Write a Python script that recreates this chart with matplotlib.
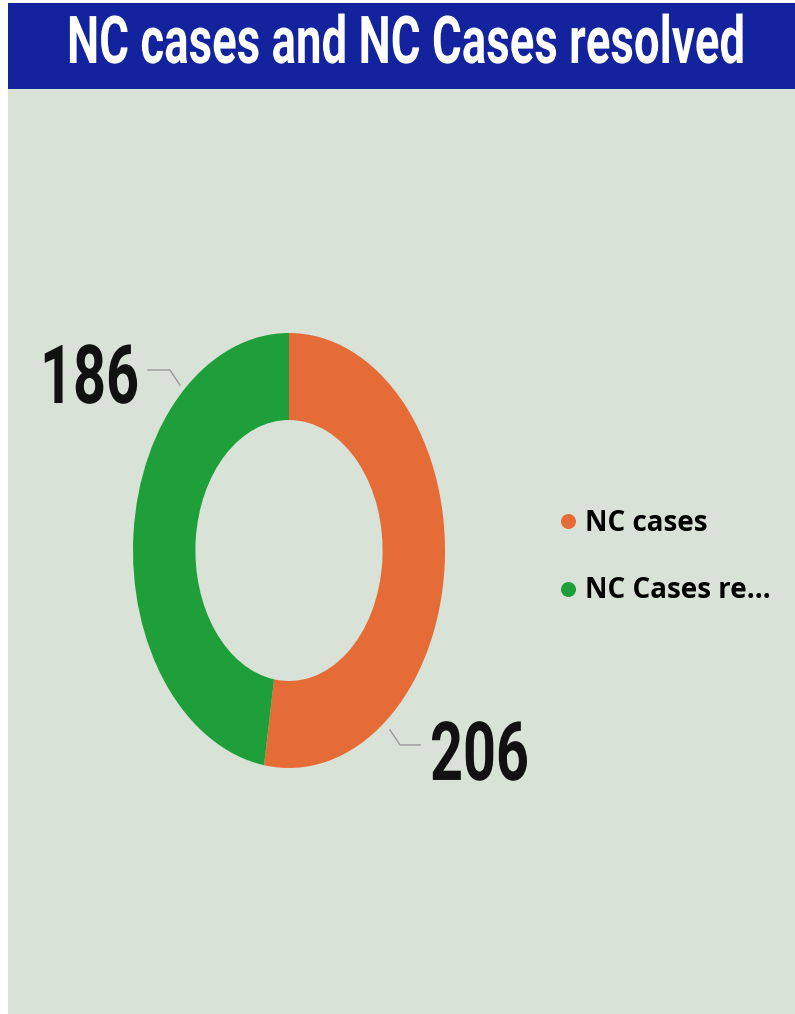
import matplotlib
matplotlib.use("Agg")
import matplotlib.pyplot as plt
from matplotlib import patheffects
from matplotlib.lines import Line2D
from matplotlib.patches import Rectangle
from matplotlib.transforms import Affine2D

# datos
categories = ["NC cases", "NC Cases resolved"]
values = [206, 186]
legend_labels = ["NC cases", "NC Cases re..."]
colors = ["#E66C37", "#1E9F3A"]
title = "NC cases and NC Cases resolved"

W, H = 795, 1014
fig = plt.figure(figsize=(W / 100, H / 100), dpi=100)
fig.patch.set_facecolor("white")


def px(x, y):
    # pixel (desde arriba a la izquierda) -> fraccion de figura
    return x / W, 1 - y / H


class Stretch(patheffects.AbstractPathEffect):
    # estira el texto en vertical (aspecto de fuente condensada)
    def __init__(self, sy):
        super().__init__()
        self.sy = sy

    def draw_path(self, renderer, gc, tpath, affine, rgbFace=None):
        renderer.draw_path(gc, tpath, Affine2D().scale(1, self.sy) + affine, rgbFace)


def condense(t, width_px):
    # reduce el tamano hasta el ancho deseado y recupera la altura original
    w = t.get_window_extent(renderer=fig.canvas.get_renderer()).width
    t.set_fontsize(t.get_fontsize() * width_px / w)
    t.set_path_effects([Stretch(w / width_px)])


# fondo del panel y barra de titulo
fig.patches.append(Rectangle(px(8, 1014), (W - 8) / W, (1014 - 89) / H,
                             transform=fig.transFigure, facecolor="#d9e2d6",
                             edgecolor="none", zorder=-2))
fig.patches.append(Rectangle(px(8, 89), (W - 8) / W, 86 / H,
                             transform=fig.transFigure, facecolor="#13239d",
                             edgecolor="none", zorder=-2))

tt = fig.text(*px(67, 63), title, color="white", fontsize=47.5,
              family="Roboto", weight="bold", ha="left", va="baseline")
condense(tt, 677)

# dona
ax = fig.add_axes([133 / W, 1 - 768 / H, 312 / W, 435 / H])
wedges, _ = ax.pie(values, colors=colors, startangle=90, counterclock=False,
                   wedgeprops=dict(width=0.4, linewidth=0))
ax.set_aspect("auto")
ax.set_xlim(-1, 1)
ax.set_ylim(-1, 1)
ax.axis("off")

# etiquetas de datos con lineas guia
label_pos = {
    "NC cases": dict(text=(0.904, -1.055), line=[(0.647, -0.825), (0.712, -0.894), (0.840, -0.894)]),
    "NC Cases resolved": dict(text=(-1.596, 0.678), line=[(-0.699, 0.761), (-0.763, 0.830), (-0.904, 0.830)]),
}
for cat, val in zip(categories, values):
    p = label_pos[cat]
    xs, ys = zip(*p["line"])
    ax.plot(xs, ys, color="#9a9a9a", lw=1, clip_on=False)
    t = ax.text(*p["text"], str(val), fontsize=58.7, family="Roboto", weight="bold",
                color="#111111", ha="left", va="baseline", clip_on=False)
    condense(t, 99)

# leyenda
handles = [Line2D([], [], marker="o", linestyle="none", markersize=10.8,
                  markerfacecolor=c, markeredgewidth=0) for c in colors]
fig.legend(handles, legend_labels, loc="center left", bbox_to_anchor=px(546, 557),
           frameon=False, borderpad=0, handlelength=0.6, handletextpad=0.3,
           labelspacing=1.4, prop=dict(family="Open Sans", weight="bold", size=20))

fig.savefig("out.png", dpi=100, facecolor=fig.get_facecolor())
